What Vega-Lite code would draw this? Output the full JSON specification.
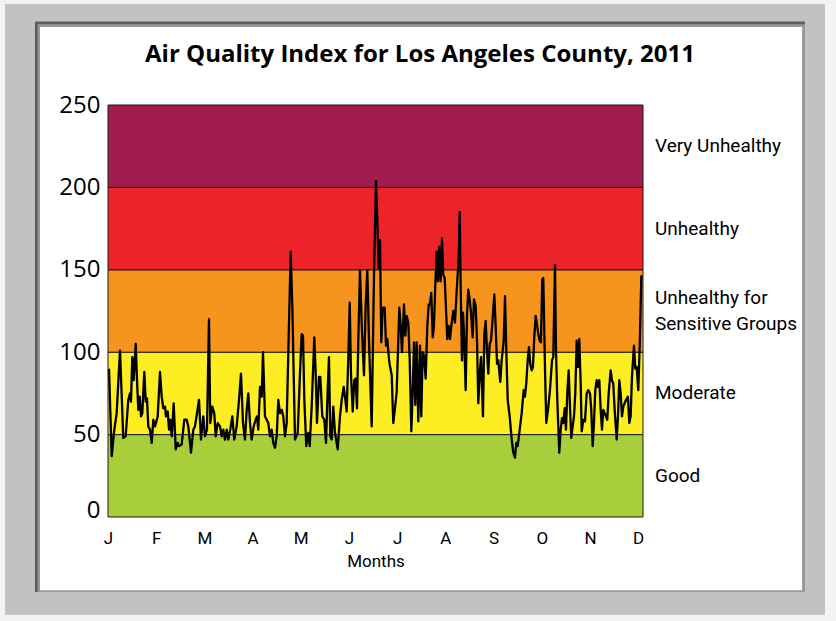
{
  "$schema": "https://vega.github.io/schema/vega-lite/v6.json",
  "width": 535,
  "height": 412,
  "autosize": {"type": "none"},
  "padding": {"left": 108, "top": 105, "right": 193, "bottom": 104},
  "background": "#f3f3f3",
  "config": {"view": {"stroke": null}},
  "datasets": {
    "bands": [
      {"level": "Good", "lo": 0, "hi": 50, "label": "Good"},
      {"level": "Moderate", "lo": 50, "hi": 100, "label": "Moderate"},
      {"level": "USG", "lo": 100, "hi": 150, "label": "Unhealthy for\nSensitive Groups"},
      {"level": "Unhealthy", "lo": 150, "hi": 200, "label": "Unhealthy"},
      {"level": "Very Unhealthy", "lo": 200, "hi": 250, "label": "Very Unhealthy"}
    ],
    "titles": [
      {"t": 6.473, "v": 280.3, "text": "Air Quality Index for Los Angeles County, 2011"}
    ],
    "aqi": [
      {"t":0.021,"aqi":90},{"t":0.077,"aqi":37},{"t":0.131,"aqi":53},{"t":0.180,"aqi":63},{"t":0.249,"aqi":101},{"t":0.317,"aqi":48},{"t":0.367,"aqi":49},{"t":0.421,"aqi":71},{"t":0.456,"aqi":75},{"t":0.477,"aqi":70},
      {"t":0.504,"aqi":97},{"t":0.533,"aqi":83},{"t":0.575,"aqi":105},{"t":0.602,"aqi":83},{"t":0.629,"aqi":65},{"t":0.658,"aqi":73},{"t":0.685,"aqi":61},{"t":0.712,"aqi":63},{"t":0.753,"aqi":88},{"t":0.782,"aqi":70},
      {"t":0.809,"aqi":72},{"t":0.836,"aqi":55},{"t":0.871,"aqi":53},{"t":0.907,"aqi":45},{"t":0.940,"aqi":59},{"t":0.975,"aqi":55},{"t":1.031,"aqi":61},{"t":1.079,"aqi":88},{"t":1.114,"aqi":73},{"t":1.147,"aqi":66},
      {"t":1.183,"aqi":67},{"t":1.203,"aqi":61},{"t":1.239,"aqi":64},{"t":1.266,"aqi":53},{"t":1.293,"aqi":59},{"t":1.322,"aqi":49},{"t":1.363,"aqi":69},{"t":1.405,"aqi":41},{"t":1.446,"aqi":45},{"t":1.473,"aqi":43},
      {"t":1.529,"aqi":44},{"t":1.583,"aqi":59},{"t":1.633,"aqi":59},{"t":1.666,"aqi":55},{"t":1.722,"aqi":39},{"t":1.770,"aqi":53},{"t":1.805,"aqi":55},{"t":1.888,"aqi":71},{"t":1.929,"aqi":47},{"t":1.977,"aqi":61},
      {"t":2.012,"aqi":49},{"t":2.054,"aqi":53},{"t":2.095,"aqi":120},{"t":2.122,"aqi":57},{"t":2.164,"aqi":67},{"t":2.205,"aqi":63},{"t":2.234,"aqi":49},{"t":2.276,"aqi":57},{"t":2.324,"aqi":55},{"t":2.359,"aqi":49},
      {"t":2.392,"aqi":53},{"t":2.427,"aqi":47},{"t":2.463,"aqi":53},{"t":2.496,"aqi":47},{"t":2.537,"aqi":53},{"t":2.579,"aqi":61},{"t":2.620,"aqi":47},{"t":2.670,"aqi":55},{"t":2.718,"aqi":71},{"t":2.759,"aqi":87},
      {"t":2.801,"aqi":57},{"t":2.842,"aqi":47},{"t":2.878,"aqi":65},{"t":2.911,"aqi":75},{"t":2.946,"aqi":57},{"t":2.981,"aqi":47},{"t":3.023,"aqi":55},{"t":3.064,"aqi":59},{"t":3.091,"aqi":61},{"t":3.118,"aqi":53},
      {"t":3.154,"aqi":79},{"t":3.189,"aqi":73},{"t":3.216,"aqi":100},{"t":3.257,"aqi":61},{"t":3.293,"aqi":59},{"t":3.326,"aqi":57},{"t":3.361,"aqi":49},{"t":3.396,"aqi":53},{"t":3.429,"aqi":45},{"t":3.465,"aqi":42},
      {"t":3.500,"aqi":49},{"t":3.533,"aqi":71},{"t":3.568,"aqi":63},{"t":3.604,"aqi":65},{"t":3.637,"aqi":61},{"t":3.672,"aqi":49},{"t":3.707,"aqi":57},{"t":3.790,"aqi":161},{"t":3.824,"aqi":128},{"t":3.880,"aqi":47},
      {"t":3.936,"aqi":51},{"t":3.983,"aqi":87},{"t":4.019,"aqi":111},{"t":4.046,"aqi":110},{"t":4.073,"aqi":71},{"t":4.114,"aqi":43},{"t":4.156,"aqi":51},{"t":4.185,"aqi":43},{"t":4.226,"aqi":67},{"t":4.280,"aqi":109},
      {"t":4.309,"aqi":87},{"t":4.336,"aqi":57},{"t":4.378,"aqi":85},{"t":4.405,"aqi":85},{"t":4.446,"aqi":61},{"t":4.488,"aqi":59},{"t":4.523,"aqi":45},{"t":4.558,"aqi":77},{"t":4.585,"aqi":97},{"t":4.612,"aqi":49},
      {"t":4.641,"aqi":47},{"t":4.674,"aqi":67},{"t":4.710,"aqi":51},{"t":4.766,"aqi":41},{"t":4.813,"aqi":61},{"t":4.849,"aqi":71},{"t":4.890,"aqi":79},{"t":4.917,"aqi":73},{"t":4.952,"aqi":64},{"t":4.986,"aqi":97},
      {"t":5.015,"aqi":130},{"t":5.041,"aqi":87},{"t":5.077,"aqi":64},{"t":5.110,"aqi":83},{"t":5.139,"aqi":84},{"t":5.166,"aqi":66},{"t":5.193,"aqi":107},{"t":5.228,"aqi":150},{"t":5.264,"aqi":117},{"t":5.311,"aqi":86},
      {"t":5.346,"aqi":128},{"t":5.380,"aqi":150},{"t":5.415,"aqi":107},{"t":5.471,"aqi":55},{"t":5.519,"aqi":147},{"t":5.560,"aqi":204},{"t":5.587,"aqi":181},{"t":5.616,"aqi":151},{"t":5.643,"aqi":168},{"t":5.670,"aqi":106},
      {"t":5.699,"aqi":127},{"t":5.741,"aqi":127},{"t":5.768,"aqi":104},{"t":5.795,"aqi":108},{"t":5.836,"aqi":94},{"t":5.886,"aqi":86},{"t":5.919,"aqi":57},{"t":5.954,"aqi":66},{"t":5.990,"aqi":76},{"t":6.044,"aqi":127},
      {"t":6.073,"aqi":116},{"t":6.100,"aqi":100},{"t":6.141,"aqi":129},{"t":6.168,"aqi":110},{"t":6.197,"aqi":122},{"t":6.230,"aqi":118},{"t":6.259,"aqi":96},{"t":6.293,"aqi":52},{"t":6.322,"aqi":76},{"t":6.349,"aqi":106},
      {"t":6.376,"aqi":68},{"t":6.405,"aqi":106},{"t":6.438,"aqi":58},{"t":6.473,"aqi":104},{"t":6.500,"aqi":61},{"t":6.529,"aqi":100},{"t":6.556,"aqi":98},{"t":6.591,"aqi":84},{"t":6.625,"aqi":116},{"t":6.654,"aqi":129},
      {"t":6.680,"aqi":129},{"t":6.707,"aqi":136},{"t":6.737,"aqi":109},{"t":6.763,"aqi":116},{"t":6.791,"aqi":141},{"t":6.820,"aqi":161},{"t":6.846,"aqi":143},{"t":6.873,"aqi":164},{"t":6.902,"aqi":143},{"t":6.929,"aqi":169},
      {"t":6.956,"aqi":147},{"t":6.985,"aqi":145},{"t":7.012,"aqi":127},{"t":7.039,"aqi":108},{"t":7.068,"aqi":116},{"t":7.095,"aqi":108},{"t":7.131,"aqi":118},{"t":7.164,"aqi":125},{"t":7.199,"aqi":118},{"t":7.234,"aqi":137},
      {"t":7.276,"aqi":157},{"t":7.297,"aqi":185},{"t":7.317,"aqi":140},{"t":7.344,"aqi":95},{"t":7.365,"aqi":124},{"t":7.392,"aqi":107},{"t":7.421,"aqi":77},{"t":7.448,"aqi":122},{"t":7.475,"aqi":138},{"t":7.504,"aqi":132},
      {"t":7.531,"aqi":124},{"t":7.566,"aqi":109},{"t":7.593,"aqi":132},{"t":7.629,"aqi":128},{"t":7.656,"aqi":107},{"t":7.683,"aqi":69},{"t":7.712,"aqi":87},{"t":7.739,"aqi":97},{"t":7.780,"aqi":61},{"t":7.807,"aqi":111},
      {"t":7.836,"aqi":119},{"t":7.863,"aqi":101},{"t":7.890,"aqi":87},{"t":7.919,"aqi":105},{"t":7.946,"aqi":107},{"t":7.973,"aqi":117},{"t":8.015,"aqi":135},{"t":8.044,"aqi":115},{"t":8.071,"aqi":93},{"t":8.098,"aqi":95},
      {"t":8.139,"aqi":82},{"t":8.168,"aqi":95},{"t":8.210,"aqi":107},{"t":8.237,"aqi":134},{"t":8.264,"aqi":101},{"t":8.293,"aqi":71},{"t":8.334,"aqi":61},{"t":8.376,"aqi":47},{"t":8.409,"aqi":39},{"t":8.444,"aqi":36},
      {"t":8.471,"aqi":45},{"t":8.500,"aqi":43},{"t":8.542,"aqi":53},{"t":8.583,"aqi":63},{"t":8.624,"aqi":77},{"t":8.651,"aqi":73},{"t":8.678,"aqi":81},{"t":8.708,"aqi":95},{"t":8.734,"aqi":103},{"t":8.761,"aqi":93},
      {"t":8.790,"aqi":89},{"t":8.817,"aqi":91},{"t":8.844,"aqi":109},{"t":8.873,"aqi":122},{"t":8.900,"aqi":117},{"t":8.927,"aqi":111},{"t":8.956,"aqi":107},{"t":8.983,"aqi":106},{"t":9.010,"aqi":144},{"t":9.031,"aqi":145},
      {"t":9.066,"aqi":91},{"t":9.093,"aqi":57},{"t":9.129,"aqi":65},{"t":9.170,"aqi":77},{"t":9.212,"aqi":95},{"t":9.239,"aqi":97},{"t":9.274,"aqi":153},{"t":9.295,"aqi":101},{"t":9.322,"aqi":71},{"t":9.363,"aqi":39},
      {"t":9.392,"aqi":53},{"t":9.419,"aqi":60},{"t":9.446,"aqi":57},{"t":9.475,"aqi":66},{"t":9.502,"aqi":53},{"t":9.529,"aqi":75},{"t":9.558,"aqi":89},{"t":9.585,"aqi":67},{"t":9.612,"aqi":48},{"t":9.641,"aqi":55},
      {"t":9.668,"aqi":61},{"t":9.695,"aqi":75},{"t":9.724,"aqi":107},{"t":9.751,"aqi":91},{"t":9.778,"aqi":108},{"t":9.807,"aqi":81},{"t":9.828,"aqi":52},{"t":9.861,"aqi":59},{"t":9.896,"aqi":58},{"t":9.932,"aqi":75},
      {"t":9.965,"aqi":77},{"t":10.000,"aqi":75},{"t":10.027,"aqi":65},{"t":10.056,"aqi":43},{"t":10.083,"aqi":57},{"t":10.110,"aqi":77},{"t":10.139,"aqi":83},{"t":10.166,"aqi":79},{"t":10.193,"aqi":83},{"t":10.222,"aqi":65},
      {"t":10.249,"aqi":53},{"t":10.276,"aqi":65},{"t":10.305,"aqi":63},{"t":10.332,"aqi":61},{"t":10.359,"aqi":59},{"t":10.388,"aqi":75},{"t":10.429,"aqi":89},{"t":10.456,"aqi":83},{"t":10.483,"aqi":81},{"t":10.512,"aqi":65},
      {"t":10.554,"aqi":47},{"t":10.581,"aqi":61},{"t":10.608,"aqi":83},{"t":10.637,"aqi":75},{"t":10.664,"aqi":61},{"t":10.691,"aqi":67},{"t":10.720,"aqi":69},{"t":10.747,"aqi":71},{"t":10.788,"aqi":73},{"t":10.815,"aqi":57},
      {"t":10.844,"aqi":61},{"t":10.871,"aqi":85},{"t":10.913,"aqi":104},{"t":10.940,"aqi":90},{"t":10.969,"aqi":91},{"t":11.002,"aqi":77},{"t":11.037,"aqi":109},{"t":11.065,"aqi":146},{"t":11.093,"aqi":146}
    ]
  },
  "layer": [
    {
      "data": {"values": [{}]},
      "mark": {"type": "rect", "fill": "#c2c2c2", "clip": false},
      "encoding": {
        "x": {"datum": -2.137, "type": "quantitative", "scale": {"domain": [0, 11.1], "nice": false, "zero": false}},
        "x2": {"datum": 14.876},
        "y": {"datum": 311.3, "type": "quantitative", "scale": {"domain": [0, 250], "nice": false}},
        "y2": {"datum": -59.5}
      }
    },
    {
      "data": {"values": [{}]},
      "mark": {"type": "rect", "fill": "#5e5e5e", "clip": false},
      "encoding": {
        "x": {"datum": -1.515, "type": "quantitative"},
        "x2": {"datum": 14.46},
        "y": {"datum": 300.6, "type": "quantitative"},
        "y2": {"datum": -45.5}
      }
    },
    {
      "data": {"values": [{}]},
      "mark": {"type": "rect", "fill": "#9a9a9a", "clip": false},
      "encoding": {
        "x": {"datum": -1.46, "type": "quantitative"},
        "x2": {"datum": 14.46},
        "y": {"datum": 299.0, "type": "quantitative"},
        "y2": {"datum": -45.5}
      }
    },
    {
      "data": {"values": [{}]},
      "mark": {"type": "rect", "fill": "#ffffff", "clip": false},
      "encoding": {
        "x": {"datum": -1.411, "type": "quantitative"},
        "x2": {"datum": 14.40},
        "y": {"datum": 297.3, "type": "quantitative"},
        "y2": {"datum": -44.5}
      }
    },
    {
      "data": {"name": "bands"},
      "mark": {"type": "rect", "stroke": "#1a1a1a", "strokeWidth": 1},
      "encoding": {
        "x": {"datum": 0, "type": "quantitative"},
        "x2": {"datum": 11.1},
        "y": {"field": "lo", "type": "quantitative"},
        "y2": {"field": "hi"},
        "color": {
          "field": "level",
          "type": "nominal",
          "legend": null,
          "scale": {
            "domain": ["Good", "Moderate", "USG", "Unhealthy", "Very Unhealthy"],
            "range": ["#a8cf3b", "#fcee22", "#f7941e", "#ec2328", "#a11c4c"]
          }
        }
      }
    },
    {
      "data": {"name": "aqi"},
      "mark": {"type": "line", "color": "#000000", "strokeWidth": 2.3, "strokeJoin": "round"},
      "encoding": {
        "x": {
          "field": "t",
          "type": "quantitative",
          "axis": {
            "values": [0, 1, 2, 3, 4, 5, 6, 7, 8, 9, 10, 11],
            "labelExpr": "['J','F','M','A','M','J','J','A','S','O','N','D'][datum.value]",
            "labelFont": "Roboto",
            "labelFontSize": 17,
            "labelColor": "#000000",
            "labelPadding": 13,
            "labelFlush": false,
            "labelOverlap": false,
            "ticks": false,
            "domain": false,
            "grid": false,
            "zindex": 1,
            "title": "Months",
            "titleFont": "Roboto",
            "titleFontSize": 17,
            "titleFontWeight": "normal",
            "titleColor": "#000000",
            "titlePadding": 7
          }
        },
        "y": {
          "field": "aqi",
          "type": "quantitative",
          "axis": {
            "values": [0, 50, 100, 150, 200, 250],
            "labelFont": "Open Sans",
            "labelFontSize": 24,
            "labelColor": "#000000",
            "labelPadding": 8,
            "labelBaseline": {"condition": {"test": "datum.value === 0", "value": "alphabetic"}, "value": "middle"},
            "ticks": false,
            "domain": false,
            "grid": false,
            "zindex": 1,
            "title": null
          }
        }
      }
    },
    {
      "data": {"name": "bands"},
      "transform": [
        {"filter": "datum.level !== 'USG'"},
        {"calculate": "(datum.lo + datum.hi) / 2", "as": "mid"}
      ],
      "mark": {"type": "text", "align": "left", "baseline": "middle", "dx": 12, "font": "Roboto", "fontSize": 19, "color": "#000000", "clip": false},
      "encoding": {
        "x": {"datum": 11.1, "type": "quantitative"},
        "y": {"field": "mid", "type": "quantitative"},
        "text": {"field": "label", "type": "nominal"}
      }
    },
    {
      "data": {"name": "bands"},
      "transform": [
        {"filter": "datum.level === 'USG'"},
        {"calculate": "(datum.lo + datum.hi) / 2", "as": "mid"}
      ],
      "mark": {"type": "text", "align": "left", "baseline": "middle", "dx": 12, "dy": -13, "font": "Roboto", "fontSize": 19, "color": "#000000", "lineBreak": "\n", "lineHeight": 26, "clip": false},
      "encoding": {
        "x": {"datum": 11.1, "type": "quantitative"},
        "y": {"field": "mid", "type": "quantitative"},
        "text": {"field": "label", "type": "nominal"}
      }
    },
    {
      "data": {"name": "titles"},
      "mark": {"type": "text", "align": "center", "baseline": "middle", "font": "Open Sans", "fontSize": 24, "fontWeight": "bold", "color": "#000000", "clip": false},
      "encoding": {
        "x": {"field": "t", "type": "quantitative"},
        "y": {"field": "v", "type": "quantitative"},
        "text": {"field": "text", "type": "nominal"}
      }
    }
  ]
}
